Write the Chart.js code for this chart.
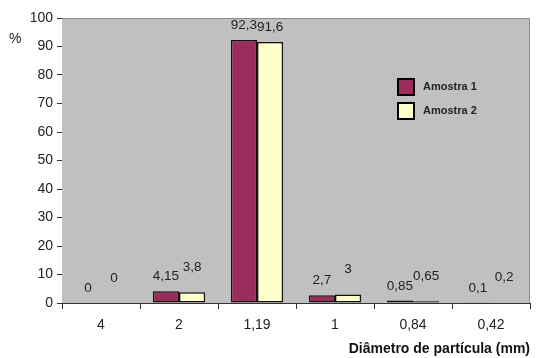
<!DOCTYPE html>
<html><head><meta charset="utf-8">
<script src="https://cdn.jsdelivr.net/npm/chart.js@4/dist/chart.umd.min.js"></script>
<style>html,body{margin:0;padding:0;background:#fff;}#wrap{width:545px;height:358px;}</style>
</head><body><div id="wrap"><canvas id="c" width="545" height="358"></canvas></div>
<script>
const categories = ["4", "2", "1,19", "1", "0,84", "0,42"];
const amostra1 = [0, 4.15, 92.3, 2.7, 0.85, 0.1];
const amostra2 = [0, 3.8, 91.6, 3, 0.65, 0.2];
const seriesNames = ["Amostra 1", "Amostra 2"];
const yTicks = [0, 10, 20, 30, 40, 50, 60, 70, 80, 90, 100];

const FONT = "'Liberation Sans', Arial, sans-serif";
const fmt = v => String(v).replace('.', ',');

const decor = {
  id: 'decor',
  beforeDatasetsDraw(chart) {
    const {ctx, chartArea: a} = chart;
    ctx.save();
    ctx.fillStyle = '#c0c0c0';
    ctx.fillRect(a.left, a.top, a.right - a.left, a.bottom - a.top);
    ctx.strokeStyle = '#8a8a8a';
    ctx.lineWidth = 1;
    ctx.beginPath();
    ctx.moveTo(a.left, a.top + 0.5); ctx.lineTo(a.right - 0.5, a.top + 0.5); ctx.lineTo(a.right - 0.5, a.bottom);
    ctx.stroke();
    ctx.restore();
  },
  afterDatasetsDraw(chart) {
    const {ctx, chartArea: a} = chart;
    ctx.save();
    ctx.font = '13.5px ' + FONT;
    ctx.fillStyle = '#222';
    ctx.textAlign = 'center';
    ctx.textBaseline = 'bottom';
    chart.data.datasets.forEach((ds, i) => {
      chart.getDatasetMeta(i).data.forEach((bar, j) => {
        const low = a.bottom - bar.y < 30;
        const off = low ? (i === 0 ? 8 : 18) : 8;
        ctx.fillText(fmt(ds.data[j]), bar.x, bar.y - off);
      });
    });
    ctx.textAlign = 'left';
    ctx.textBaseline = 'middle';
    ctx.font = '14px ' + FONT;
    ctx.fillText('%', 9, 39);
    ctx.font = 'bold 11px ' + FONT;
    chart.data.datasets.forEach((ds, i) => {
      const x = 398, y = 79 + i * 24;
      ctx.fillStyle = ds.backgroundColor;
      ctx.fillRect(x, y, 16, 16);
      ctx.strokeStyle = '#000';
      ctx.lineWidth = 2;
      ctx.strokeRect(x, y, 16, 16);
      ctx.fillStyle = '#222';
      ctx.fillText(ds.label, x + 25, y + 8);
    });
    ctx.restore();
  }
};

new Chart(document.getElementById('c'), {
  type: 'bar',
  data: {
    labels: categories,
    datasets: [
      {label: seriesNames[0], data: amostra1, backgroundColor: '#9b2d5c', borderColor: '#111', borderWidth: 1.5, borderSkipped: false},
      {label: seriesNames[1], data: amostra2, backgroundColor: '#ffffcc', borderColor: '#111', borderWidth: 1.5, borderSkipped: false}
    ]
  },
  options: {
    responsive: false,
    animation: false,
    layout: {padding: {top: 18, right: 15, left: 0, bottom: 0}},
    plugins: {legend: {display: false}, tooltip: {enabled: false}},
    datasets: {bar: {categoryPercentage: 0.67, barPercentage: 1}},
    scales: {
      x: {
        grid: {display: true, drawOnChartArea: false, drawTicks: true, tickLength: 6, color: '#333', offset: true},
        border: {color: '#333', width: 1},
        ticks: {font: {family: FONT, size: 14}, color: '#222', padding: 8},
        title: {display: true, text: 'Diâmetro de partícula (mm)', align: 'end', font: {family: FONT, size: 14, weight: 'bold'}, color: '#111', padding: {top: 9, bottom: 0}},
        afterFit(s) { s.height = 55; }
      },
      y: {
        min: 0, max: 100,
        afterBuildTicks(s) { s.ticks = yTicks.map(v => ({value: v})); },
        grid: {display: true, drawOnChartArea: false, drawTicks: true, tickLength: 5, color: '#333'},
        border: {color: '#333', width: 1},
        ticks: {font: {family: FONT, size: 14}, color: '#222', padding: 4},
        afterFit(s) { s.width = 62; }
      }
    }
  },
  plugins: [decor]
});
</script></body></html>
